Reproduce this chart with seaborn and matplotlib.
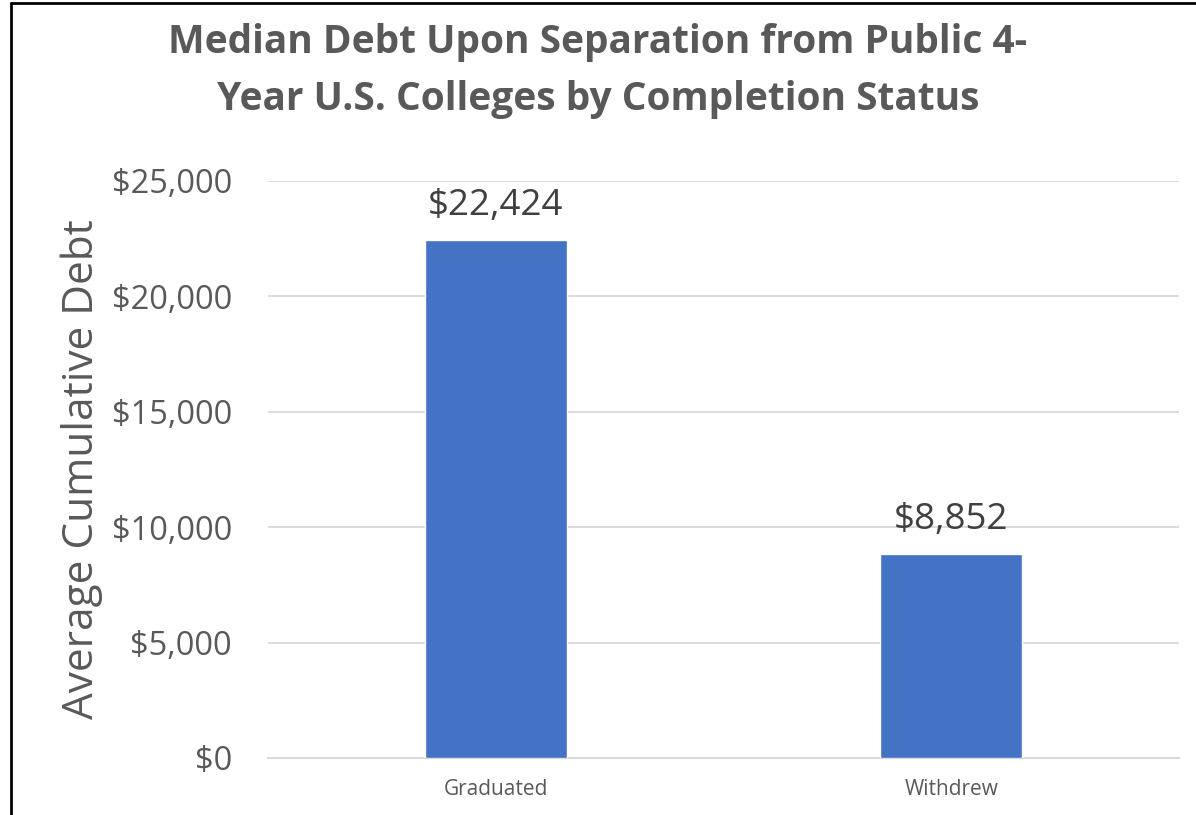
import matplotlib
matplotlib.use("Agg")
import matplotlib.pyplot as plt
import seaborn as sns
import pandas as pd
from matplotlib.lines import Line2D
from matplotlib.ticker import FuncFormatter

# Data
statuses = ["Graduated", "Withdrew"]
median_debt = [22424, 8852]
y_ticks = [0, 5000, 10000, 15000, 20000, 25000]
title_lines = ["Median Debt Upon Separation from Public 4-",
               "Year U.S. Colleges by Completion Status"]

df = pd.DataFrame({"status": statuses, "debt": median_debt})

sns.set_theme(style="white")
plt.rcParams["font.family"] = ["Open Sans", "DejaVu Sans"]

W, H = 1196, 815
fig = plt.figure(figsize=(W / 100, H / 100), dpi=100)
fig.patch.set_facecolor("white")

# plot area in pixel coordinates
left, right, top, bottom = 268, 1179, 181, 758
ax = fig.add_axes([left / W, (H - bottom) / H, (right - left) / W, (bottom - top) / H])

sns.barplot(data=df, x="status", y="debt", color="#4472C4", width=0.312,
            saturation=1, ax=ax, zorder=3)

ax.set_ylim(0, 25000)
ax.set_xlim(-0.5, 1.5)
ax.set_yticks(y_ticks)
ax.yaxis.set_major_formatter(FuncFormatter(lambda v, p: f"${v:,.0f}"))
ax.yaxis.grid(True, color="#D9D9D9", linewidth=1.3, zorder=0)
ax.set_axisbelow(True)

for s in ["top", "right", "left"]:
    ax.spines[s].set_visible(False)
ax.spines["bottom"].set_color("#D9D9D9")
ax.spines["bottom"].set_linewidth(1.5)

ax.tick_params(axis="y", length=0, pad=26, labelsize=23.5, labelcolor="#595959")
ax.tick_params(axis="x", length=0, pad=15, labelsize=15, labelcolor="#595959")
ax.set_xlabel("")
ax.set_ylabel("Average Cumulative Debt", fontsize=30.5, color="#595959", labelpad=6)

# value labels
for i, v in enumerate(median_debt):
    ax.text(i, v + 700, f"${v:,.0f}", ha="center", va="bottom",
            fontsize=26.5, color="#404040")

# chart title, one text per line with fixed baselines
for line, baseline in zip(title_lines, [53, 110]):
    fig.text(0.5, 1 - baseline / H, line, ha="center", va="baseline",
             fontsize=28, fontweight="bold", color="#595959")

# frame lines
fig.add_artist(Line2D([11 / W, 1.0], [1 - 3 / H, 1 - 3 / H], transform=fig.transFigure,
                      color="black", linewidth=2))
fig.add_artist(Line2D([11 / W, 11 / W], [0, 1 - 3 / H], transform=fig.transFigure,
                      color="black", linewidth=2))

fig.savefig("out.png", dpi=100, facecolor="white")
